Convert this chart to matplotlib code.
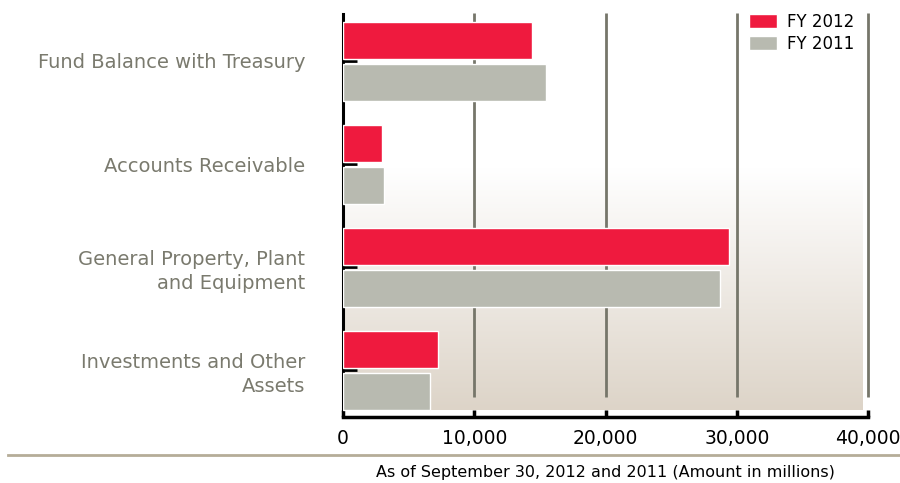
import numpy as np
import matplotlib.pyplot as plt
from matplotlib.lines import Line2D
from matplotlib.colors import LinearSegmentedColormap

categories = ["Fund Balance with Treasury", "Accounts Receivable",
              "General Property, Plant\nand Equipment", "Investments and Other\nAssets"]
fy2012 = [14400, 3000, 29400, 7250]
fy2011 = [15450, 3150, 28700, 6650]
xticks = [0, 10000, 20000, 30000, 40000]
xtick_labels = ["0", "10,000", "20,000", "30,000", "40,000"]

red = "#ef1a3e"
gray = "#b8bab0"

fig = plt.figure(figsize=(9, 4.83), dpi=100)
ax = fig.add_axes([343/900, 1 - 417/483, 525/900, 407/483])

y = np.arange(len(categories))
ax.set_xlim(0, 40000)
ax.set_ylim(3.456, -0.495)

# background gradient
cmap = LinearSegmentedColormap.from_list("bg", ["#ffffff", "#ddd4c8"])
grad = np.linspace(0, 1, 256).reshape(-1, 1)
ax.imshow(grad, cmap=cmap, aspect="auto", extent=[0, 39550, 3.39, 1.05], zorder=0)

ax.vlines(xticks[1:], -0.466, 3.26, color="#76766a", lw=2, zorder=1, clip_on=False)

ax.barh(y - 0.195, fy2012, height=0.36, color=red, edgecolor="white", lw=1, zorder=3, label="FY 2012")
ax.barh(y + 0.205, fy2011, height=0.36, color=gray, edgecolor="white", lw=1, zorder=3, label="FY 2011")

for s in ["top", "right"]:
    ax.spines[s].set_visible(False)
ax.spines["left"].set_linewidth(2.2)
ax.spines["left"].set_bounds(-0.46, 3.39)
ax.spines["bottom"].set_linewidth(2.5)

ax.set_xticks(xticks)
ax.set_xticklabels(xtick_labels, fontsize=13.5)
ax.tick_params(axis="x", direction="in", length=5, width=2.5, pad=9)
ax.set_yticks(y)
ax.set_yticklabels(categories, fontsize=14, color="#7a7a6e", linespacing=1.35)
ax.tick_params(axis="y", direction="in", length=10, width=2, pad=27)

fig.text(605/900, 1 - 472/483, "As of September 30, 2012 and 2011 (Amount in millions)",
         fontsize=11.5, ha="center", va="center")

ax.legend(loc="upper left", bbox_to_anchor=(0.76, 1.01), frameon=False, fontsize=12,
          handlelength=1.7, handleheight=0.9, handletextpad=0.6, labelspacing=0.25, borderaxespad=0)

fig.add_artist(Line2D([8/900, 1], [1 - 455/483, 1 - 455/483], color="#b5ad98", lw=2))

fig.savefig("out.png", dpi=100)
